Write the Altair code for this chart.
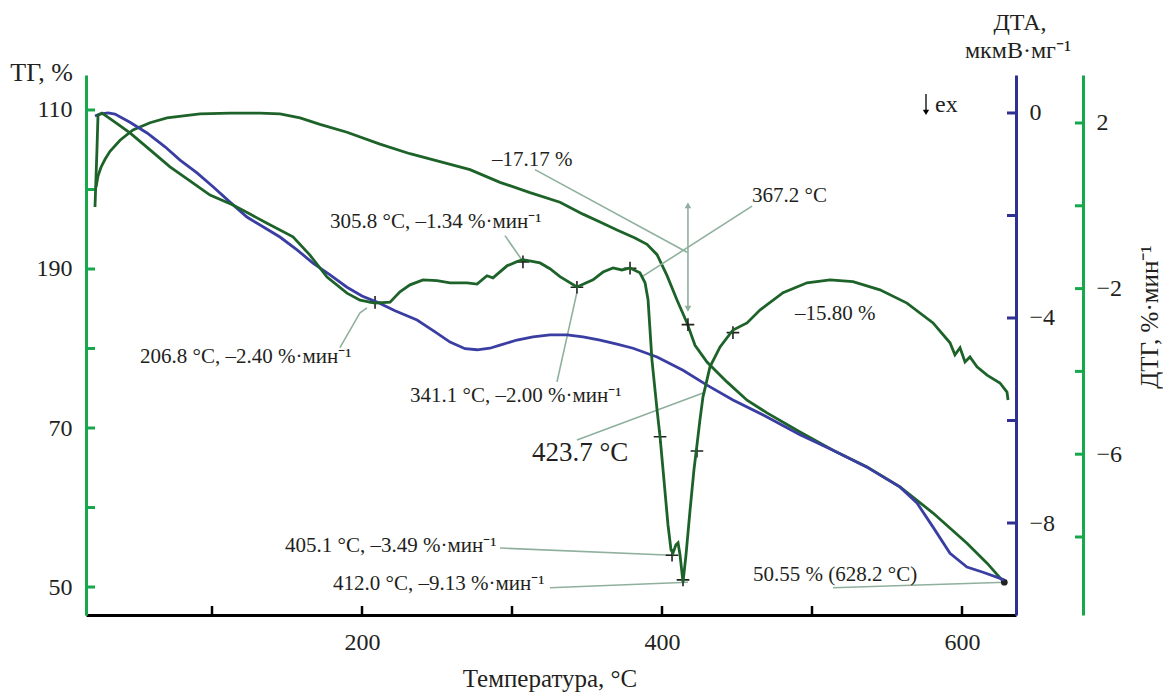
import altair as alt
import pandas as pd

# ---------------- values ----------------
# temperature (°C), ТГ (%)
tg_points = [(22.7, 100.3), (24.0, 101.7), (26.0, 102.8), (28.7, 103.8), (32.0, 104.8),
             (38.7, 106.2), (47.3, 107.5), (58.7, 108.4), (70.0, 109.0), (92.0, 109.5),
             (112.0, 109.6), (132.0, 109.6), (145.3, 109.5), (158.7, 109.0), (172.0, 108.2),
             (190.0, 107.2), (212.0, 105.7), (232.0, 104.5), (252.0, 103.5), (272.0, 102.5),
             (292.0, 100.9), (312.0, 99.6), (332.0, 98.4), (347.3, 96.9), (358.7, 95.9),
             (370.0, 94.9), (382.0, 93.9), (390.0, 93.1), (396.7, 91.8), (403.3, 89.2),
             (410.0, 86.1), (416.7, 83.2), (422.0, 80.4), (430.0, 78.3), (443.3, 75.8),
             (456.7, 73.5), (470.0, 71.9), (492.0, 69.5), (514.0, 67.2), (536.7, 65.1),
             (558.7, 62.6), (580.7, 59.3), (603.3, 55.5), (616.7, 53.0), (628.2, 50.55)]

# temperature (°C), ДТА (мкмВ/мг)
dta_points = [(22.0, -0.06), (25.3, -0.02), (30.7, 0.00), (35.3, -0.02), (45.3, -0.18),
              (56.7, -0.39), (68.7, -0.66), (78.7, -0.92), (90.0, -1.17), (100.7, -1.44),
              (112.0, -1.74), (123.3, -2.03), (134.0, -2.22), (145.3, -2.42), (156.7, -2.67),
              (167.3, -2.93), (178.7, -3.16), (190.0, -3.40), (200.0, -3.57), (210.0, -3.69),
              (222.0, -3.86), (236.7, -4.04), (248.7, -4.27), (258.7, -4.47), (268.7, -4.60),
              (276.7, -4.62), (285.3, -4.59), (292.0, -4.53), (303.3, -4.43), (314.0, -4.37),
              (325.3, -4.33), (336.7, -4.33), (347.3, -4.37), (358.7, -4.43), (370.0, -4.51),
              (380.7, -4.59), (396.7, -4.76), (414.0, -5.02), (430.0, -5.31), (447.3, -5.60),
              (470.0, -5.93), (492.0, -6.28), (514.0, -6.58), (536.7, -6.91), (558.7, -7.30),
              (570.0, -7.61), (580.7, -8.08), (592.0, -8.59), (603.3, -8.86), (614.0, -8.96),
              (628.2, -9.11)]

# temperature (°C), ДТГ (%/мин)
dtg_points = [(22.0, -0.03), (23.3, 1.35), (24.0, 2.19), (26.7, 2.24), (35.3, 2.02), (45.3, 1.76),
              (58.7, 1.35), (72.0, 0.94), (85.3, 0.60), (98.7, 0.26), (114.0, 0.02), (125.3, -0.20),
              (136.7, -0.42), (154.0, -0.75), (165.3, -1.19), (176.7, -1.72), (190.0, -2.11),
              (198.7, -2.28), (208.7, -2.35), (218.7, -2.33), (225.3, -2.08), (232.0, -1.91),
              (240.7, -1.79), (250.0, -1.81), (258.7, -1.86), (270.0, -1.86), (276.7, -1.89),
              (283.3, -1.69), (287.3, -1.74), (296.7, -1.45), (303.3, -1.35), (307.3, -1.30),
              (318.7, -1.38), (325.3, -1.52), (332.0, -1.71), (343.3, -1.96), (354.0, -1.79),
              (360.7, -1.60), (367.3, -1.50), (373.3, -1.55), (378.7, -1.50), (385.3, -1.62),
              (388.7, -1.86), (390.7, -2.27), (393.3, -3.72), (396.7, -4.93), (398.7, -5.58),
              (401.3, -6.62), (404.0, -7.71), (406.0, -8.31), (407.3, -8.39), (409.3, -8.19),
              (410.7, -8.14), (412.0, -8.43), (414.0, -9.09), (416.0, -8.43), (418.7, -7.35),
              (421.3, -6.38), (423.3, -5.78), (425.3, -5.17), (427.3, -4.62), (432.0, -3.89),
              (438.7, -3.41), (447.3, -3.00), (456.7, -2.83), (465.3, -2.52), (480.7, -2.10),
              (496.7, -1.86), (512.0, -1.79), (527.3, -1.83), (545.3, -2.03), (563.3, -2.35),
              (580.7, -2.83), (588.7, -3.17), (592.0, -3.31), (595.3, -3.60), (598.7, -3.43),
              (602.0, -3.77), (605.3, -3.65), (610.0, -3.89), (616.7, -4.09), (625.3, -4.28),
              (630.0, -4.50), (630.7, -4.69)]

# axis ticks / labels
x_ticks = [100, 200, 300, 400, 500, 600]
x_labels = [200, 400, 600]
tg_ticks = [50, 60, 70, 80, 90, 100, 110]
tg_labels = [50, 70, 90, 110]
dta_ticks = [0, -2, -4, -6, -8]
dta_labels = [0, -4, -8]
dtg_ticks = [2, 0, -2, -4, -6, -8]
dtg_labels = [2, -2, -6]

# annotations (temperature, ТГ-scale value, text, font size)
ann_T = [286.7, 178.7, 460.0, 52.0, 232.0, 313.3, 148.7, 180.7, 460.7, 488.7, 582.0]
ann_v = [103.7, 95.9, 99.2, 78.9, 74.0, 66.9, 55.2, 50.4, 51.5, 84.3, 110.6]
ann_text = ["–17.17 %", "305.8 °C, –1.34 %·мин⁻¹", "367.2 °C", "206.8 °C, –2.40 %·мин⁻¹",
            "341.1 °C, –2.00 %·мин⁻¹", "423.7 °C", "405.1 °C, –3.49 %·мин⁻¹",
            "412.0 °C, –9.13 %·мин⁻¹", "50.55 % (628.2 °C)", "–15.80 %", "ex"]
ann_size = [21, 21, 21, 21, 21, 27, 21, 21, 21, 21, 24]

# leader lines (id, temperature, ТГ-scale value)
leaders = [(1, 315.3, 102.5), (1, 416.7, 92.1),
           (2, 295.3, 94.2), (2, 306.7, 91.1),
           (3, 460.0, 97.9), (3, 387.3, 89.1),
           (4, 203.3, 85.1), (4, 198.7, 84.5), (4, 185.3, 80.1),
           (5, 343.3, 87.1), (5, 330.0, 75.8),
           (6, 343.3, 68.5), (6, 428.7, 74.5),
           (7, 292.0, 54.9), (7, 406.7, 54.0),
           (8, 325.3, 49.9), (8, 417.3, 50.6),
           (9, 514.0, 49.9), (9, 629.3, 50.6),
           (10, 417.3, 98.2), (10, 417.3, 84.8)]
arrow_up = [(417.3, 98.0)]
arrow_down = [(417.3, 85.0)]
ex_arrow = [(1, 576.0, 112.0), (1, 576.0, 110.0)]
ex_head = [(576.0, 109.7)]

# "+" markers (temperature, ТГ-scale value)
cross_points = [(208.7, 85.8), (307.3, 90.9), (343.3, 87.7), (378.7, 90.1), (398.7, 68.9),
                (406.7, 54.0), (414.0, 50.9), (423.3, 67.1), (447.3, 82.0), (417.3, 83.0)]
end_point = [(628.2, 50.6)]

# ---------------- styling ----------------
W, H = 930, 540
FONT = "Liberation Serif"
TXT = "#231f20"
GREEN_AX = "#17a84b"
BLUE_AX = "#2e3192"
CURVE_G = "#1d6329"
CURVE_B = "#3a3ea2"
LEAD = "#8fb09d"

X_DOM = [16, 636]
TG_DOM = [46.48, 114.4]
DTA_DOM = [-9.795, 0.741]
DTG_DOM = [-9.884, 3.159]

x_axis = alt.Axis(values=x_labels, title=None, orient="bottom", ticks=False, tickSize=0,
                  domainColor="black", domainWidth=3, labelFont=FONT, labelFontSize=24,
                  labelColor=TXT, labelPadding=15, grid=False)
tg_axis = alt.Axis(values=tg_labels, title=None, orient="left", ticks=False, tickSize=0,
                   labelExpr="datum.value == 90 ? '190' : datum.label",
                   domainColor=GREEN_AX, domainWidth=3, labelFont=FONT, labelFontSize=24,
                   labelColor=TXT, labelPadding=14, grid=False)
dta_axis = alt.Axis(values=dta_labels, title=None, orient="right", ticks=False, tickSize=0,
                    domainColor=BLUE_AX, domainWidth=3, labelFont=FONT, labelFontSize=24,
                    labelColor=TXT, labelPadding=13, grid=False)
dtg_axis = alt.Axis(values=dtg_labels, title=None, orient="right", offset=67, ticks=False,
                    tickSize=0, domainColor=GREEN_AX, domainWidth=3, labelFont=FONT,
                    labelFontSize=24, labelColor=TXT, labelPadding=13, grid=False)


def df(points, cols=("T", "v")):
    return pd.DataFrame(points, columns=list(cols))


def xs():
    return alt.X("T:Q", scale=alt.Scale(domain=X_DOM, nice=False, zero=False), axis=x_axis)


def ys(dom, axis):
    return alt.Y("v:Q", scale=alt.Scale(domain=dom, nice=False, zero=False), axis=axis)


def ytg():
    return ys(TG_DOM, tg_axis)


# ---- ТГ layer (left scale) with annotations ----
tg_line = alt.Chart(df(tg_points)).mark_line(color=CURVE_G, strokeWidth=2.8).encode(
    x=xs(), y=ytg())
tg_tick_marks = alt.Chart(pd.DataFrame({"v": tg_ticks})).mark_rule(
    color=GREEN_AX, strokeWidth=3).encode(x=alt.value(0), x2=alt.value(9), y=ytg())
x_tick_marks = alt.Chart(pd.DataFrame({"T": x_ticks})).mark_rule(
    color="black", strokeWidth=2.5).encode(x=xs(), y=alt.value(H - 9), y2=alt.value(H))

lead_df = pd.DataFrame(leaders, columns=["id", "T", "v"])
lead_df["o"] = range(len(lead_df))
lead_lines = alt.Chart(lead_df).mark_line(color=LEAD, strokeWidth=1.6).encode(
    x=xs(), y=ytg(), detail="id:N", order="o:Q")
up_head = alt.Chart(df(arrow_up)).mark_point(shape="triangle-up", size=45, filled=True,
                                             color=LEAD, opacity=1).encode(x=xs(), y=ytg())
down_head = alt.Chart(df(arrow_down)).mark_point(shape="triangle-down", size=45, filled=True,
                                                 color=LEAD, opacity=1).encode(x=xs(), y=ytg())
ex_df = pd.DataFrame(ex_arrow, columns=["id", "T", "v"])
ex_line = alt.Chart(ex_df).mark_line(color="black", strokeWidth=1.3).encode(
    x=xs(), y=ytg(), detail="id:N")
ex_tri = alt.Chart(df(ex_head)).mark_point(shape="triangle-down", size=40, filled=True,
                                           color="black", opacity=1).encode(x=xs(), y=ytg())

crosses = alt.Chart(df(cross_points)).mark_point(
    shape="M-1,0L1,0M0,-1L0,1", size=160, filled=False, stroke="#222222", strokeWidth=1.6,
    opacity=1).encode(x=xs(), y=ytg())
end_dot = alt.Chart(df(end_point)).mark_point(shape="circle", size=45, filled=True,
                                              color="#222222", opacity=1).encode(x=xs(), y=ytg())

ann_df = pd.DataFrame({"T": ann_T, "v": ann_v, "t": ann_text, "fs": ann_size})
ann = alt.Chart(ann_df).mark_text(align="left", baseline="middle", font=FONT, color=TXT).encode(
    x=xs(), y=ytg(), text="t:N", size=alt.Size("fs:Q", scale=None, legend=None))

tg_layer = alt.layer(tg_line, tg_tick_marks, x_tick_marks, lead_lines, up_head, down_head,
                     ex_line, ex_tri, crosses, end_dot, ann)

# ---- ДТА layer (first right scale) ----
dta_line = alt.Chart(df(dta_points)).mark_line(color=CURVE_B, strokeWidth=2.8).encode(
    x=xs(), y=ys(DTA_DOM, dta_axis))
dta_tick_marks = alt.Chart(pd.DataFrame({"v": dta_ticks})).mark_rule(
    color=BLUE_AX, strokeWidth=3).encode(x=alt.value(W - 9), x2=alt.value(W),
                                         y=ys(DTA_DOM, dta_axis))
dta_layer = alt.layer(dta_line, dta_tick_marks)

# ---- ДТГ layer (second right scale) ----
dtg_line = alt.Chart(df(dtg_points)).mark_line(color=CURVE_G, strokeWidth=2.8).encode(
    x=xs(), y=ys(DTG_DOM, dtg_axis))
dtg_tick_marks = alt.Chart(pd.DataFrame({"v": dtg_ticks})).mark_rule(
    color=GREEN_AX, strokeWidth=3).encode(x=alt.value(W + 67 - 8), x2=alt.value(W + 67),
                                          y=ys(DTG_DOM, dtg_axis))
dtg_layer = alt.layer(dtg_line, dtg_tick_marks)


# ---- axis titles ----
def title(text, x, y, size=25, align="center", baseline="alphabetic", angle=0):
    return alt.Chart(pd.DataFrame({"t": [text]})).mark_text(
        align=align, baseline=baseline, fontSize=size, font=FONT, color=TXT, angle=angle
    ).encode(x=alt.value(x), y=alt.value(y), text="t:N")


titles = alt.layer(
    title("ТГ, %", -13, 6, size=26, align="right"),
    title("ДТА,", 934, -45, size=24),
    title("мкмВ·мг⁻¹", 932, -17, size=24),
    title("ДТГ, %·мин⁻¹", 1064, 242, size=25, baseline="middle", angle=270),
    title("Температура, °С", 464, 612, size=25),
)

chart = alt.layer(tg_layer, dta_layer, dtg_layer, titles).resolve_scale(
    y="independent"
).properties(
    width=W, height=H,
    padding={"left": 86, "top": 75, "right": 147, "bottom": 80},
    autosize=alt.AutoSizeParams(type="none"),
    background="white",
).configure_view(stroke=None)

chart.save("out.html", embed_options={"renderer": "svg", "actions": False})
